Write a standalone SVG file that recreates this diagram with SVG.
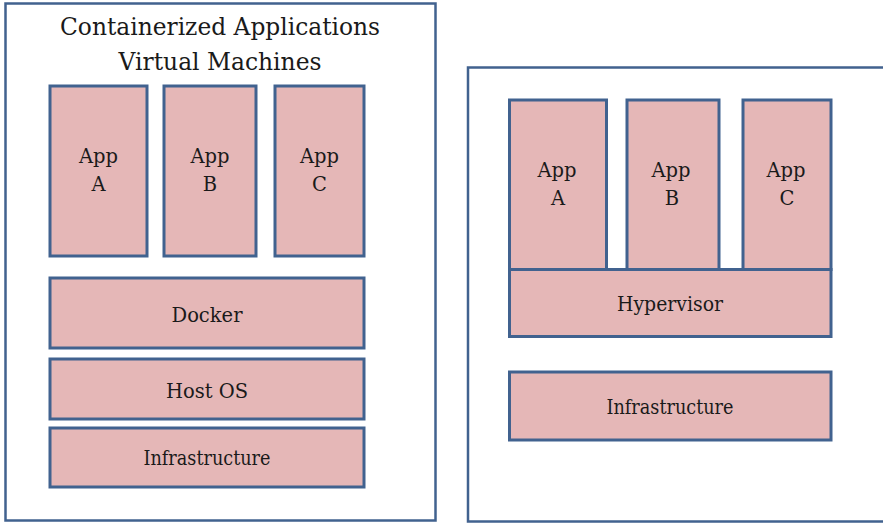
<svg xmlns="http://www.w3.org/2000/svg" width="883" height="523" viewBox="0 0 883 523">
<style>
.frame{fill:#ffffff;stroke:#41628f;stroke-width:2.5}
.box{fill:#e5b7b7;stroke:#41628f;stroke-width:3}
text{font-family:'DejaVu Serif',serif;fill:#1a1a1a;text-anchor:middle}
.s{font-size:19.5px}
.h{font-size:24px}
</style>
<rect width="883" height="523" fill="#ffffff"/>
<g id="left-frame">
<rect class="frame" x="5.5" y="3.5" width="430" height="517"/>
<text class="h" x="220" y="35" textLength="320" lengthAdjust="spacingAndGlyphs">Containerized Applications</text>
<text class="h" x="220" y="70" textLength="203" lengthAdjust="spacingAndGlyphs">Virtual Machines</text>
</g>
<g id="l-appA"><rect class="box" x="50" y="86" width="97" height="170"/><text class="s" x="98.5" y="163">App</text><text class="s" x="98.5" y="191">A</text></g>
<g id="l-appB"><rect class="box" x="164" y="86" width="92" height="170"/><text class="s" x="210" y="163">App</text><text class="s" x="210" y="191">B</text></g>
<g id="l-appC"><rect class="box" x="275" y="86" width="89" height="170"/><text class="s" x="319.5" y="163">App</text><text class="s" x="319.5" y="191">C</text></g>
<g id="l-docker"><rect class="box" x="50" y="278" width="314" height="70"/><text class="s" x="207" y="322">Docker</text></g>
<g id="l-hostos"><rect class="box" x="50" y="359" width="314" height="60"/><text class="s" x="207" y="398">Host OS</text></g>
<g id="l-infra"><rect class="box" x="50" y="428" width="314" height="59"/><text class="s" x="207" y="465" textLength="127" lengthAdjust="spacingAndGlyphs">Infrastructure</text></g>
<g id="right-frame">
<rect class="frame" x="468" y="67.5" width="430" height="454"/>
</g>
<g id="r-appA"><rect class="box" x="509.5" y="100" width="97" height="169.5"/><text class="s" x="557" y="177">App</text><text class="s" x="558" y="205">A</text></g>
<g id="r-appB"><rect class="box" x="627" y="100" width="92" height="169.5"/><text class="s" x="671" y="177">App</text><text class="s" x="672" y="205">B</text></g>
<g id="r-appC"><rect class="box" x="743" y="100" width="88" height="169.5"/><text class="s" x="786" y="177">App</text><text class="s" x="787" y="205">C</text></g>
<g id="r-hypervisor"><rect class="box" x="509.5" y="269.5" width="321.5" height="67"/><text class="s" x="670" y="311" textLength="106" lengthAdjust="spacingAndGlyphs">Hypervisor</text></g>
<g id="r-infra"><rect class="box" x="509.5" y="372" width="321.5" height="68"/><text class="s" x="670" y="414" textLength="127" lengthAdjust="spacingAndGlyphs">Infrastructure</text></g>
<g id="connectors"></g>
</svg>
